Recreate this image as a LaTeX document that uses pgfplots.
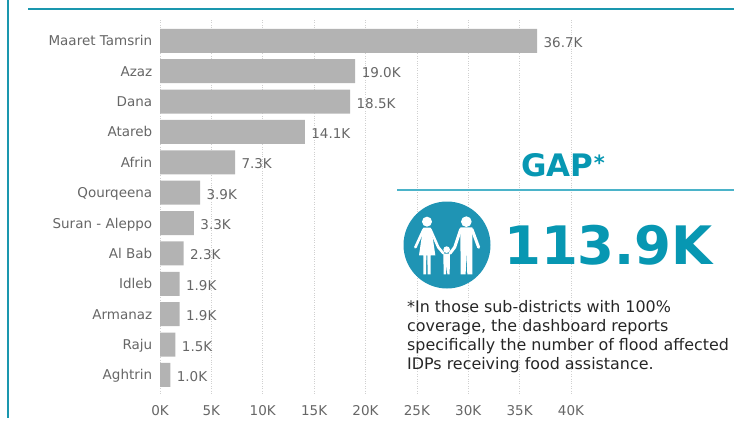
\documentclass[border=0pt]{standalone}
\usepackage{pgfplots}
\pgfplotsset{compat=1.18}
\usepackage{fontspec}
\setmainfont{DejaVu Sans}
\definecolor{linedark}{RGB}{26,151,174}
\definecolor{linelight}{HTML}{4BB3C9}
\definecolor{gaptxt}{HTML}{0797B2}
\definecolor{iconc}{HTML}{1F94B4}
\definecolor{lab}{HTML}{666666}
\definecolor{barc}{HTML}{B3B3B3}
\definecolor{gridc}{HTML}{D0D0D0}
\newcommand{\fs}[1]{\fontsize{#1bp}{#1bp}\selectfont}
\begin{document}
\begin{tikzpicture}[x=1bp,y=1bp]
\path[use as bounding box] (0,0) rectangle (734,430);
\begin{axis}[
  at={(160bp,35bp)}, anchor=south west,
  scale only axis, width=411bp, height=375bp,
  xmin=0, xmax=40, ymin=-0.685, ymax=11.66, y dir=reverse,
  xbar, bar width=24bp, bar shift=0pt,
  axis line style={draw=none}, tick style={draw=none},
  clip=false,
  /pgf/number format/assume math mode=true,
  xtick={0,5,...,40},
  xticklabels={0K,5K,10K,15K,20K,25K,30K,35K,40K},
  ytick={0,...,11},
  yticklabels={Maaret Tamsrin,Azaz,Dana,Atareb,Afrin,Qourqeena,Suran - Aleppo,Al Bab,Idleb,Armanaz,Raju,Aghtrin},
  xmajorgrids, grid style={draw=gridc, dotted, line width=0.7pt},
  tick label style={font=\fs{13.5}, text=lab},
  xticklabel style={yshift=-7bp},
  yticklabel style={xshift=0bp, yshift=-1.5bp, text height=10bp, text depth=3bp},
  nodes near coords={\pgfmathprintnumber[fixed,fixed zerofill,precision=1,assume math mode=true]{\pgfplotspointmeta}K},
  nodes near coords style={font=\fs{13.5}, text=lab, anchor=west, xshift=3bp, yshift=-3bp, text height=10bp, text depth=3bp},
  point meta=x,
]
\addplot[fill=barc, draw=none] coordinates {
(36.7,0) (19.0,1) (18.5,2) (14.1,3) (7.3,4) (3.9,5) (3.3,6) (2.3,7) (1.9,8) (1.9,9) (1.5,10) (1.0,11)};
\end{axis}
\begin{scope}[shift={(0,430)}, y=-1bp]
\fill[linedark] (7,0) rectangle (8.6,418);
\fill[linedark] (28,8.3) rectangle (734,10.3);
\fill[linelight] (397,189.2) rectangle (734,190.8);
\node[text=gaptxt, font=\fs{31}\bfseries, anchor=base west, inner sep=0pt] (gap) at (521,176) {GAP};
\node[text=gaptxt, font=\fs{21}\bfseries, anchor=base west, inner sep=0pt] at (gap.base east) [yshift=6bp] {*};
\fill[iconc] (447,245) circle (43.5);
\node[text=gaptxt, font=\fs{53}\bfseries, anchor=center] at (608.5,245) {113.9K};
\node[text=black!85, font=\fontsize{15.9bp}{18.9bp}\selectfont, anchor=north west, align=left, inner sep=0pt] at (407,300.5)
 {*In those sub-districts with 100\%\\ coverage, the dashboard reports\\ specifically the number of flood affected\\ IDPs receiving food assistance.};
\end{scope}
% family icon, coordinates in zoomed reference pixels
\begin{scope}[shift={(390,290)}, x=0.3333bp, y=-0.3333bp]
\fill[white] (111,245) circle (15);
\fill[white] (229,245) circle (16);
\fill[white] (170,329) circle (10);
% woman
\fill[white] (100,263) -- (122,263) -- (127,285) -- (136,346) -- (122,346) -- (122,403) -- (113,403) -- (112,346) -- (109,346) -- (108,403) -- (100,403) -- (100,346) -- (87,346) -- (96,285) -- cycle;
\draw[white, line width=2.6pt, line cap=round, line join=round] (101,268) -- (76,322);
\draw[white, line width=2.6pt, line cap=round, line join=round] (121,268) -- (145,322) -- (160,340);
% man
\fill[white] (211,262) -- (247,262) -- (247,403) -- (232,403) -- (229,335) -- (227,403) -- (212,403) -- cycle;
\draw[white, line width=3pt, line cap=round, line join=round] (212,268) -- (194,322) -- (180,340);
\draw[white, line width=3pt, line cap=round, line join=round] (246,268) -- (266,322);
% child
\fill[white] (160,341) -- (180,341) -- (179,403) -- (172,403) -- (170,375) -- (168,403) -- (161,403) -- cycle;
\end{scope}
\end{tikzpicture}
\end{document}
